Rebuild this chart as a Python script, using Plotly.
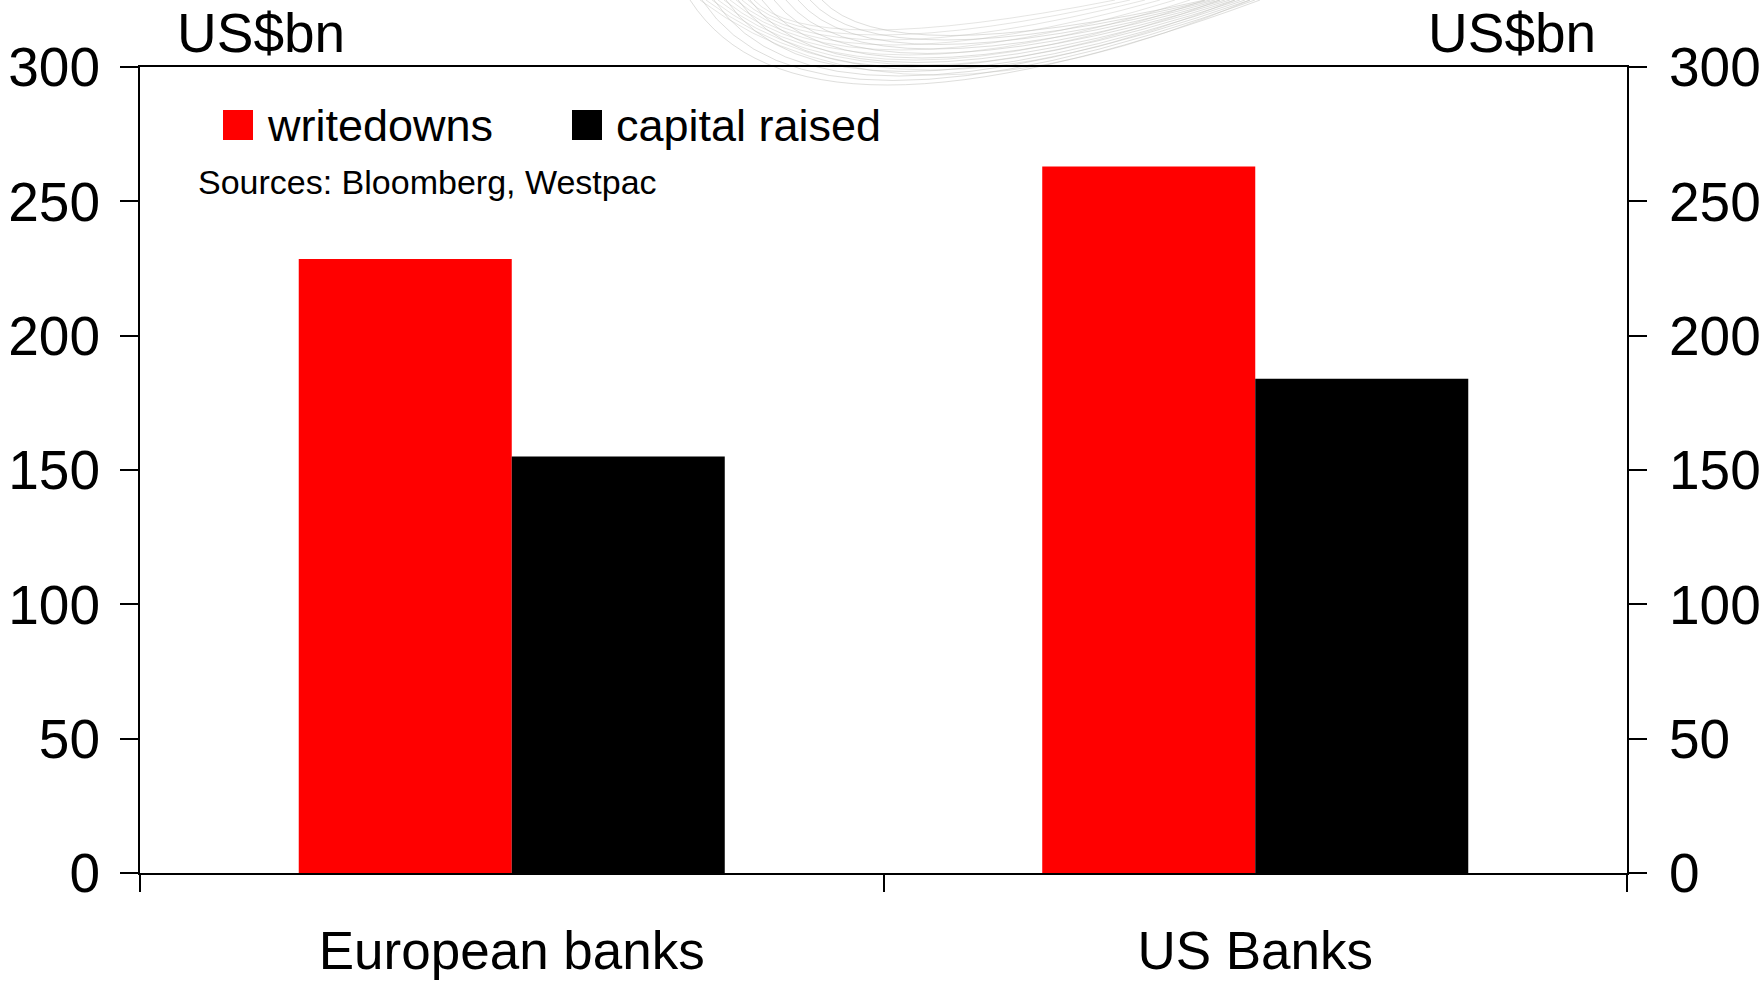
import plotly.graph_objects as go

categories = ["European banks", "US Banks"]
writedowns = [228.5, 263]
capital_raised = [155, 184]
series_names = ["writedowns", "capital raised"]
series_colors = ["#FF0000", "#000000"]
y_ticks = [0, 50, 100, 150, 200, 250, 300]

W, H = 1763, 981
L, R, T, B = 140, 1627, 67, 873


def px(x):
    return (x - L) / (R - L)


def py(y):
    return (B - y) / (B - T)


FONT = "Liberation Sans, Arial, sans-serif"

fig = go.Figure()
fig.add_trace(go.Bar(x=categories, y=writedowns, name=series_names[0],
                     marker=dict(color=series_colors[0], line=dict(width=0)),
                     showlegend=False))
fig.add_trace(go.Bar(x=categories, y=capital_raised, name=series_names[1],
                     marker=dict(color=series_colors[1], line=dict(width=0)),
                     showlegend=False))
fig.add_trace(go.Scatter(x=categories, y=[None, None], yaxis="y2",
                         showlegend=False, hoverinfo="skip", mode="markers"))

tick_font = dict(family=FONT, size=55, color="black")
cat_font = dict(family=FONT, size=53, color="black")

fig.update_layout(
    width=W, height=H,
    margin=dict(l=L, r=W - R, t=T, b=H - B, pad=0),
    paper_bgcolor="white", plot_bgcolor="rgba(0,0,0,0)",
    barmode="group", bargap=0.427, bargroupgap=0,
    showlegend=False,
    xaxis=dict(
        showline=True, linecolor="black", linewidth=2, mirror=True,
        ticks="outside", tickson="boundaries", ticklen=17, tickwidth=1.5,
        tickcolor="black", tickfont=cat_font, showgrid=False,
        ticklabelstandoff=30, automargin=False,
    ),
    yaxis=dict(
        range=[0, 300], tickvals=y_ticks, showline=True, linecolor="black",
        linewidth=2, ticks="outside", ticklen=18, tickwidth=2,
        tickcolor="black", tickfont=tick_font, showgrid=False,
        zeroline=False, ticklabelstandoff=9, automargin=False,
    ),
    yaxis2=dict(
        range=[0, 300], tickvals=y_ticks, overlaying="y", side="right",
        showline=True, linecolor="black", linewidth=2, ticks="outside",
        ticklen=18, tickwidth=2, tickcolor="black", tickfont=tick_font,
        showgrid=False, zeroline=False, ticklabelstandoff=11,
        automargin=False,
    ),
)

# faint decorative watermark curves at top centre (two crossing families)
for i in range(12):
    x0 = 690 + i * 12
    xc = 800 + i * 8
    yc = 170 - i * 9
    x1 = 1260 - i * 5
    path = "M {:.4f},{:.4f} Q {:.4f},{:.4f} {:.4f},{:.4f}".format(
        px(x0), py(0), px(xc), py(yc), px(x1), py(0))
    fig.add_shape(type="path", xref="paper", yref="paper", path=path,
                  line=dict(color="rgba(190,190,185,0.5)", width=1),
                  layer="below")
for i in range(10):
    x0 = 700 + i * 6
    xc = 900 - i * 10
    yc = 150 - i * 10
    x1 = 1250 - i * 15
    path = "M {:.4f},{:.4f} Q {:.4f},{:.4f} {:.4f},{:.4f}".format(
        px(x0), py(0), px(xc), py(yc), px(x1), py(0))
    fig.add_shape(type="path", xref="paper", yref="paper", path=path,
                  line=dict(color="rgba(190,190,185,0.4)", width=1),
                  layer="below")

# custom legend (large square keys)
legend_items = [(223, 266), (572, 615)]
for (sx, tx), name, col in zip(legend_items, series_names, series_colors):
    fig.add_shape(type="rect", xref="paper", yref="paper",
                  x0=px(sx), x1=px(sx + 30), y0=py(140), y1=py(110),
                  fillcolor=col, line=dict(width=0))
    fig.add_annotation(x=px(tx), y=py(125), xref="paper", yref="paper",
                       text=name, showarrow=False, xanchor="left",
                       yanchor="middle", borderpad=0,
                       font=dict(family=FONT, size=45, color="black"))

fig.add_annotation(x=px(197), y=py(182), xref="paper", yref="paper",
                   text="Sources: Bloomberg, Westpac", showarrow=False,
                   xanchor="left", yanchor="middle", borderpad=0,
                   font=dict(family=FONT, size=34, color="black"))

for xpos, anchor in [(176, "left"), (1597, "right")]:
    fig.add_annotation(x=px(xpos), y=py(1), xref="paper", yref="paper",
                       text="US$bn", showarrow=False, xanchor=anchor,
                       yanchor="top", borderpad=0,
                       font=dict(family=FONT, size=55, color="black"))

fig.write_html("out.html")
